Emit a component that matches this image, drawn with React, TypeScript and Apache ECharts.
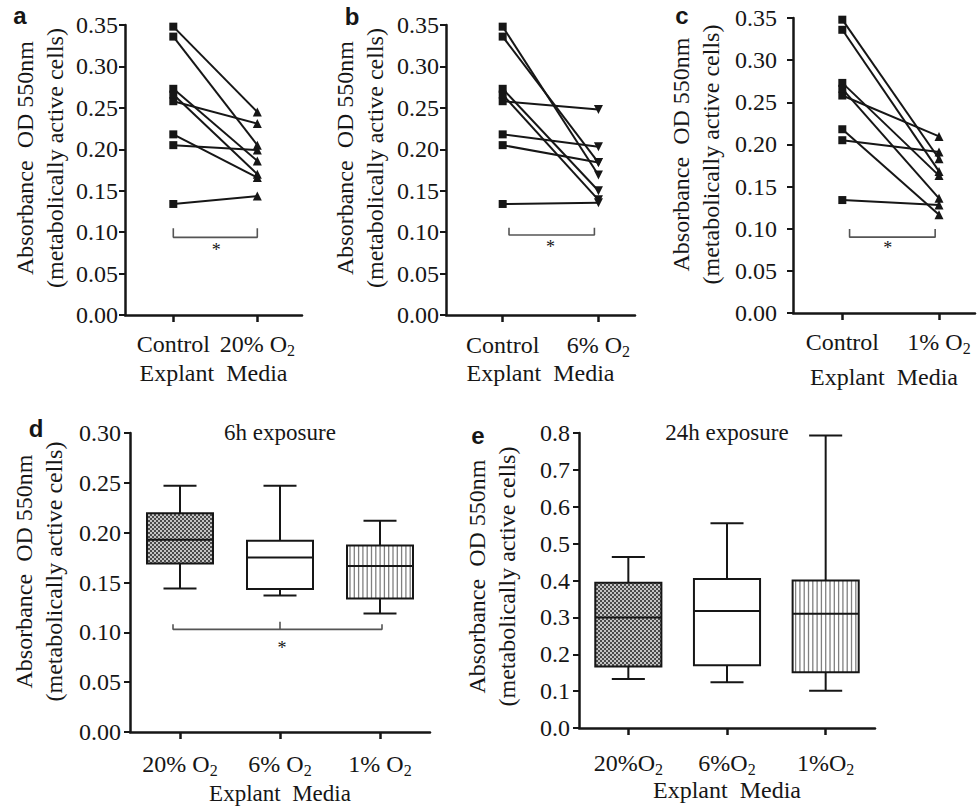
import React, { useEffect, useRef } from 'react';
import * as echarts from 'echarts';

const SERIF = 'Liberation Serif';
const SANS = 'Liberation Sans';
const INK = '#161616';

// ---- Paired data (panels a–c): eight explants, the same control in each panel ----
const controlValues = [0.348, 0.336, 0.258, 0.273, 0.266, 0.218, 0.205, 0.134];
const o2_20Values = [0.245, 0.205, 0.231, 0.186, 0.17, 0.166, 0.199, 0.1435];
const o2_6Values = [0.169, 0.184, 0.248, 0.15, 0.139, 0.203, 0.184, 0.1355];
const o2_1Values = [0.183, 0.168, 0.2095, 0.163, 0.136, 0.1166, 0.191, 0.128];

const xLabelsA = ['Control', '20% O2'];
const xLabelsB = ['Control', '6% O2'];
const xLabelsC = ['Control', '1% O2'];

// ---- Box plots (panels d, e): [min, Q1, median, Q3, max] ----
const boxCats6h = ['20% O2', '6% O2', '1% O2'];
const box6h = [
  [0.144, 0.169, 0.193, 0.2195, 0.247],
  [0.137, 0.1435, 0.175, 0.192, 0.247],
  [0.119, 0.134, 0.1666, 0.187, 0.212],
];
const boxCats24h = ['20%O2', '6%O2', '1%O2'];
const box24h = [
  [0.133, 0.167, 0.3, 0.394, 0.464],
  [0.124, 0.17, 0.317, 0.404, 0.555],
  [0.101, 0.151, 0.31, 0.4, 0.793],
];

const Y_NAME = 'Absorbance  OD 550nm\n(metabolically active cells)';
const X_NAME = 'Explant  Media';

const toRich = (s: string) => (s || '').replace(/O2$/, 'O{sub|2}');

const txt = (size: number, extra: any = {}) => ({
  fontSize: size,
  fontFamily: SERIF,
  fontWeight: 'normal',
  fontStyle: 'normal',
  color: INK,
  ...extra,
});

function xAxisOpt(gi: number, min: number, max: number, labels: string[], margin: number, nameGap: number, nameSize = 24) {
  const idx = labels.map((_, i) => i);
  return {
    type: 'value',
    gridIndex: gi,
    min,
    max,
    axisLine: { show: true, onZero: false, lineStyle: { color: INK, width: 2.5 } },
    axisTick: { show: true, length: 7, customValues: idx, lineStyle: { color: INK, width: 2.5 } },
    axisLabel: {
      show: true,
      customValues: idx,
      formatter: (v: number) => toRich(labels[Math.round(v)]),
      margin,
      ...txt(24),
      lineHeight: 30,
      rich: {
        sub: txt(16, { lineHeight: 16, padding: [14, 0, 0, 0] }),
      },
    },
    splitLine: { show: false },
    name: X_NAME,
    nameLocation: 'middle',
    nameGap,
    nameMoveOverlap: false,
    nameTextStyle: txt(nameSize, { lineHeight: 20 }),
  };
}

function yAxisOpt(gi: number, max: number, interval: number, decimals: number, margin: number, nameGap: number, shift: number) {
  return {
    type: 'value',
    gridIndex: gi,
    min: 0,
    max,
    interval,
    axisLine: { show: true, onZero: false, lineStyle: { color: INK, width: 2.5 } },
    axisTick: { show: true, length: 6, lineStyle: { color: INK, width: 2 } },
    axisLabel: {
      margin,
      ...txt(24),
      formatter: (v: number) => v.toFixed(decimals),
    },
    splitLine: { show: false },
    name: Y_NAME,
    nameLocation: 'middle',
    nameRotate: 90,
    nameGap,
    nameMoveOverlap: false,
    nameTextStyle: txt(24, { lineHeight: 30, padding: [0, 0, 0, shift * 2] }),
  };
}

function pairedSeries(gi: number, treated: number[], inverted: boolean) {
  return controlValues.map((c, k) => ({
    type: 'line',
    xAxisIndex: gi,
    yAxisIndex: gi,
    data: [
      { value: [0, c], symbol: 'rect', symbolSize: 8 },
      { value: [1, treated[k]], symbol: 'triangle', symbolSize: 9, symbolRotate: inverted ? 180 : 0 },
    ],
    showSymbol: true,
    lineStyle: { color: INK, width: 2 },
    itemStyle: { color: INK },
    silent: true,
    z: 3,
  }));
}

function bracketSeries(gi: number, pts: number[][]) {
  return {
    type: 'line',
    xAxisIndex: gi,
    yAxisIndex: gi,
    data: pts,
    symbol: 'none',
    lineStyle: { color: '#555', width: 1.6 },
    silent: true,
    z: 2,
  };
}

function starSeries(gi: number, x: number, y: number) {
  return {
    type: 'custom',
    xAxisIndex: gi,
    yAxisIndex: gi,
    data: [[x, y]],
    encode: { x: 0, y: 1 },
    silent: true,
    renderItem: (params: any, api: any) => {
      const [px, py] = api.coord([api.value(0), api.value(1)]);
      return {
        type: 'text',
        x: px,
        y: py,
        style: { text: '*', fontSize: 18, fontFamily: SERIF, fill: INK, align: 'center', verticalAlign: 'middle' },
      };
    },
  };
}

function boxSeries(gi: number, stats: number[][], boxW: number, checker: any) {
  return {
    type: 'custom',
    xAxisIndex: gi,
    yAxisIndex: gi,
    data: stats.map((s, i) => [i, ...s]),
    encode: { x: 0, y: [1, 2, 3, 4, 5] },
    silent: true,
    z: 3,
    renderItem: (params: any, api: any) => {
      const i = api.value(0);
      const p = (v: number) => api.coord([i, v]);
      const [cx, yMin] = p(api.value(1));
      const yQ1 = p(api.value(2))[1];
      const yMed = p(api.value(3))[1];
      const yQ3 = p(api.value(4))[1];
      const yMax = p(api.value(5))[1];
      const w = api.size([boxW, 0])[0];
      const cap = w * 0.5;
      const x0 = cx - w / 2;
      const x1 = cx + w / 2;
      const line = { stroke: INK, lineWidth: 2 };
      const children: any[] = [];
      const fill = i === 0 ? checker : '#fff';
      children.push({ type: 'rect', shape: { x: x0, y: yQ3, width: w, height: yQ1 - yQ3 }, style: { fill, stroke: 'none' } });
      if (i === 2) {
        for (let x = x0 + 3; x < x1 - 1; x += 4.3) {
          children.push({ type: 'line', shape: { x1: x, y1: yQ3, x2: x, y2: yQ1 }, style: { stroke: '#808080', lineWidth: 1.3 } });
        }
      }
      children.push({ type: 'rect', shape: { x: x0, y: yQ3, width: w, height: yQ1 - yQ3 }, style: { fill: 'none', ...line } });
      children.push({ type: 'line', shape: { x1: x0, y1: yMed, x2: x1, y2: yMed }, style: line });
      children.push({ type: 'line', shape: { x1: cx, y1: yQ3, x2: cx, y2: yMax }, style: line });
      children.push({ type: 'line', shape: { x1: cx, y1: yQ1, x2: cx, y2: yMin }, style: line });
      children.push({ type: 'line', shape: { x1: cx - cap / 2, y1: yMax, x2: cx + cap / 2, y2: yMax }, style: line });
      children.push({ type: 'line', shape: { x1: cx - cap / 2, y1: yMin, x2: cx + cap / 2, y2: yMin }, style: line });
      return { type: 'group', children };
    },
  };
}

function buildOption(checker: any) {
  const grid = [
    { left: 125, top: 25, width: 177, height: 290 },
    { left: 446, top: 25, width: 189, height: 290 },
    { left: 793, top: 18, width: 182, height: 295 },
    { left: 130, top: 433, width: 300, height: 299 },
    { left: 579, top: 433, width: 296, height: 295 },
  ].map((g) => ({ ...g, containLabel: false, outerBoundsMode: 'none' }));

  const letter = (t: string, x: number, y: number) => ({
    type: 'text',
    x,
    y,
    style: { text: t, fontSize: 24, fontWeight: 'bold', fontFamily: SANS, fill: INK, align: 'center', verticalAlign: 'middle' },
    silent: true,
  });
  const title = (t: string, x: number, y: number) => ({
    type: 'text',
    x,
    y,
    style: { text: t, fontSize: 23, fontFamily: SERIF, fill: INK, align: 'center', verticalAlign: 'middle' },
    silent: true,
  });

  return {
    animation: false,
    backgroundColor: '#fff',
    textStyle: { fontFamily: SERIF, color: INK },
    grid,
    xAxis: [
      xAxisOpt(0, -0.575, 1.532, xLabelsA, 13.5, 48),
      xAxisOpt(1, -0.592, 1.382, xLabelsB, 14.5, 48),
      xAxisOpt(2, -0.51, 1.372, xLabelsC, 13.5, 54),
      xAxisOpt(3, -0.5, 2.5, boxCats6h, 16.5, 51, 23),
      xAxisOpt(4, -0.5, 2.5, boxCats24h, 19.5, 52),
    ],
    yAxis: [
      yAxisOpt(0, 0.35, 0.05, 2, 7, 55, 12),
      yAxisOpt(1, 0.35, 0.05, 2, 7, 56, 12),
      yAxisOpt(2, 0.35, 0.05, 2, 16, 67, 11),
      yAxisOpt(3, 0.3, 0.05, 2, 9, 61, 11),
      yAxisOpt(4, 0.8, 0.1, 1, 9, 57, 4),
    ],
    graphic: [
      letter('a', 20, 15),
      letter('b', 352, 16),
      letter('c', 682, 15),
      letter('d', 36, 428),
      letter('e', 478, 435),
      title('6h exposure', 280, 432),
      title('24h exposure', 727, 432),
    ],
    series: [
      ...pairedSeries(0, o2_20Values, false),
      ...pairedSeries(1, o2_6Values, true),
      ...pairedSeries(2, o2_1Values, false),
      bracketSeries(0, [[0, 0.1046], [0, 0.0937], [1, 0.0937], [1, 0.1046]]),
      starSeries(0, 0.51, 0.078),
      bracketSeries(1, [[0.066, 0.1053], [0.066, 0.0965], [0.958, 0.0965], [0.958, 0.1053]]),
      starSeries(1, 0.5, 0.082),
      bracketSeries(2, [[0.075, 0.0996], [0.075, 0.09], [0.96, 0.09], [0.96, 0.0996]]),
      starSeries(2, 0.47, 0.077),
      boxSeries(3, box6h, 0.66, checker),
      bracketSeries(3, [[-0.07, 0.108], [-0.07, 0.103], [2.02, 0.103], [2.02, 0.108]]),
      bracketSeries(3, [[1, 0.1106], [1, 0.103]]),
      starSeries(3, 1.02, 0.0838),
      boxSeries(4, box24h, 0.67, checker),
    ],
  };
}

export default function App() {
  const ref = useRef<HTMLDivElement>(null);
  useEffect(() => {
    const el = ref.current;
    if (!el) return;
    const chart = echarts.init(el, null, { renderer: 'svg' });
    const cv = document.createElement('canvas');
    cv.width = 4;
    cv.height = 4;
    const ctx = cv.getContext('2d');
    if (ctx) {
      ctx.fillStyle = '#c4c4c4';
      ctx.fillRect(0, 0, 4, 4);
      ctx.fillStyle = '#4a4a4a';
      ctx.fillRect(0, 0, 2, 2);
      ctx.fillRect(2, 2, 2, 2);
    }
    const checker = { image: cv, repeat: 'repeat', imageWidth: 4, imageHeight: 4 };
    chart.setOption(buildOption(checker) as any);
    return () => chart.dispose();
  }, []);
  return (
    <div
      ref={ref}
      style={{ position: 'fixed', left: 0, top: 0, width: 980, height: 807, background: '#fff' }}
    />
  );
}
